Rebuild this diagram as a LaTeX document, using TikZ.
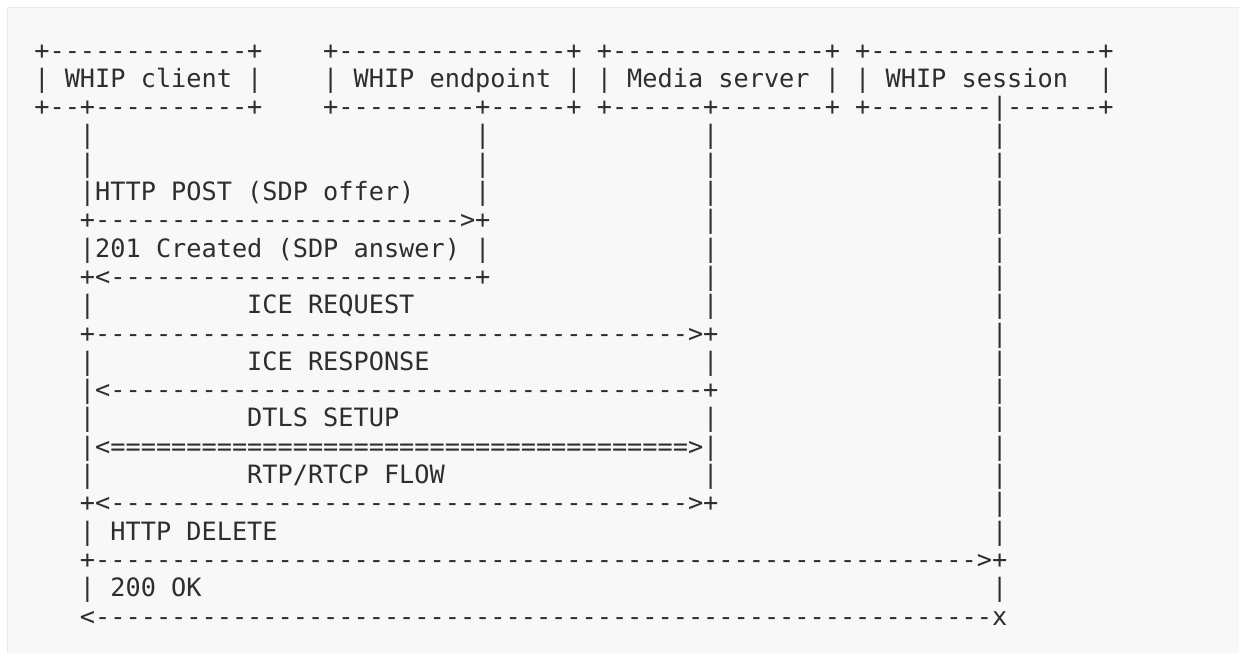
\documentclass[tikz,border=0pt]{standalone}
\usepackage{fontspec}
\setmonofont{DejaVu Sans Mono}

\definecolor{ink}{HTML}{2E2E2E}
\definecolor{panel}{HTML}{F8F8F8}
\definecolor{rim}{HTML}{EAEAEA}
\newcommand\asciifont{\ttfamily\fontsize{25.25pt}{28.3pt}\selectfont}
\newcommand\asciirun[2]{\foreach \i in {1,...,#1}{#2}}

\begin{document}
\begin{tikzpicture}[x=15.2pt,y=-28.3pt,font=\asciifont,anchor=base west,inner sep=0pt,outer sep=0pt,text=ink]
        \useasboundingbox (-2.763,-1.085) rectangle (78.75,21.954);
        \fill[panel] (-2.237,-0.837) rectangle (80,23);
        \draw[rim,line width=1pt] (80,-0.837) -- (-2.237,-0.837) -- (-2.237,23);
        % boxes
        \node (clienttop) at (-0.5,1) {+-------------+};
        \node (clientname) at (-0.5,2) {| WHIP client |};
        \node (clientbot) at (-0.5,3) {+--+----------+};
        \node (endpointtop) at (18.5,1) {+---------------+};
        \node (endpointname) at (18.5,2) {| WHIP endpoint |};
        \node (endpointbot) at (18.5,3) {+---------+-----+};
        \node (mediatop) at (36.5,1) {+--------------+};
        \node (medianame) at (36.5,2) {| Media server |};
        \node (mediabot) at (36.5,3) {+------+-------+};
        \node (sessiontop) at (53.5,1) {+---------------+};
        \node (sessionname) at (53.5,2) {| WHIP session~~|};
        \node (sessionbot) at (53.5,3) {+--------|------+};
        % lifelines
        \foreach \r in {4,5,6,8,10,12,14,16,18,20}
          \node (client\r) at (2.5,\r) {|};
        \foreach \r in {4,5,6,8}
          \node (endpoint\r) at (28.5,\r) {|};
        \foreach \r in {4,...,10,12,14,16}
          \node (media\r) at (43.5,\r) {|};
        \foreach \r in {4,...,18,20}
          \node (session\r) at (62.5,\r) {|};
        % messages
        \node (post) at (3.5,6) {HTTP POST (SDP offer)};
        \node (postarr) at (2.5,7) {+\asciirun{24}{-}>+};
        \node (answer) at (3.5,8) {201 Created (SDP answer)};
        \node (answerarr) at (2.5,9) {+<\asciirun{24}{-}+};
        \node (icereq) at (13.5,10) {ICE REQUEST};
        \node (icereqarr) at (2.5,11) {+\asciirun{39}{-}>+};
        \node (iceres) at (13.5,12) {ICE RESPONSE};
        \node (iceresarr) at (2.5,13) {|<\asciirun{39}{-}+};
        \node (dtls) at (13.5,14) {DTLS SETUP};
        \node (dtlsarr) at (2.5,15) {|<\asciirun{38}{=}>|};
        \node (rtp) at (13.5,16) {RTP/RTCP FLOW};
        \node (rtparr) at (2.5,17) {+<\asciirun{38}{-}>+};
        \node (delete) at (4.5,18) {HTTP DELETE};
        \node (deletearr) at (2.5,19) {+\asciirun{58}{-}>+};
        \node (ok) at (4.5,20) {200 OK};
        \node (okarr) at (2.5,21) {<\asciirun{59}{-}x};
      \end{tikzpicture}
\end{document}
